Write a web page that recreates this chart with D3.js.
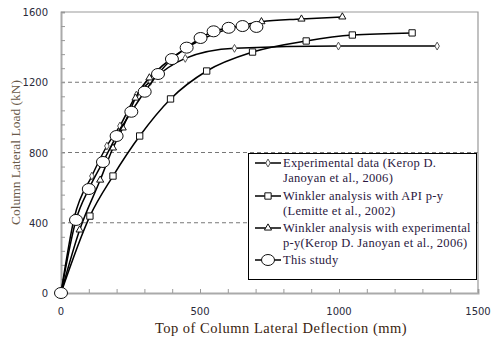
<!DOCTYPE html>
<html>
<head>
<meta charset="utf-8">
<script src="https://cdn.jsdelivr.net/npm/d3@7"></script>
<style>
  body { margin: 0; background: #fff; }
  svg { display: block; }
  .serif { font-family: 'Liberation Serif', 'Times New Roman', serif; }
  .sans { font-family: 'DejaVu Sans', Verdana, sans-serif; }
</style>
</head>
<body>
<div id="chart"></div>
<script>
// data: deflection (mm) / load (kN)
const experimental = [[0, 0], [48, 430], [111, 666], [165, 837], [212, 951], [271, 1127], [322, 1205], [447, 1336], [624, 1393], [998, 1406], [1353, 1406]];
const apiPy = [[0, 0], [104, 438], [187, 666], [283, 894], [394, 1105], [524, 1264], [689, 1372], [882, 1435], [1048, 1469], [1263, 1481]];
const expPy = [[0, 0], [67, 359], [141, 643], [187, 826], [222, 940], [268, 1110], [318, 1225], [721, 1545], [865, 1560], [1012, 1572]];
const thisStudy = [[0, 0], [54, 416], [100, 592], [151, 746], [200, 894], [253, 1032], [301, 1146], [349, 1247], [399, 1332], [452, 1397], [502, 1452], [549, 1490], [603, 1510], [653, 1520], [703, 1515]];

const legendLabels = [
  ['Experimental data (Kerop D.', 'Janoyan et al., 2006)'],
  ['Winkler analysis with API p-y', '(Lemitte et al., 2002)'],
  ['Winkler analysis with experimental', 'p-y(Kerop D. Janoyan et al., 2006)'],
  ['This study']
];
const xTicks = [0, 500, 1000, 1500];
const yTicks = [0, 400, 800, 1200, 1600];
const gridVals = [400, 800, 1200];

const W = 493, H = 337;
const margin = { top: 12, right: 15, bottom: 44, left: 61 };

const svg = d3.select('#chart').append('svg')
  .attr('width', W)
  .attr('height', H);

const x = d3.scaleLinear().domain([0, 1500]).range([margin.left, W - margin.right]);
const y = d3.scaleLinear().domain([0, 1600]).range([H - margin.bottom, margin.top]);

// dashed grid
svg.append('g')
  .selectAll('line')
  .data(gridVals)
  .enter()
  .append('line')
  .attr('x1', x(0)).attr('x2', x(1500))
  .attr('y1', d => y(d)).attr('y2', d => y(d))
  .attr('stroke', '#777')
  .attr('stroke-width', 1)
  .attr('stroke-dasharray', '4,3');

// frame (top/right)
svg.append('path')
  .attr('d', `M${x(0)},${y(1600)}H${x(1500)}V${y(0)}`)
  .attr('fill', 'none')
  .attr('stroke', '#999')
  .attr('stroke-width', 1.2);

// axes with inward minor ticks
const xAxis = svg.append('g')
  .attr('transform', `translate(0,${y(0)})`)
  .call(d3.axisBottom(x).tickValues(d3.range(0, 1501, 100)).tickSize(-4).tickFormat(''));
const yAxis = svg.append('g')
  .attr('transform', `translate(${x(0)},0)`)
  .call(d3.axisLeft(y).tickValues(d3.range(0, 1601, 80)).tickSize(-4).tickFormat(''));
[xAxis, yAxis].forEach(a => {
  a.select('.domain').attr('stroke', '#aaa').attr('stroke-width', 2);
  a.selectAll('.tick line').attr('stroke', '#999');
});

// tick labels
svg.append('g')
  .selectAll('text')
  .data(xTicks)
  .enter()
  .append('text')
  .attr('class', 'sans')
  .attr('x', d => x(d))
  .attr('y', y(0) + 22)
  .attr('text-anchor', 'middle')
  .attr('font-size', 10)
  .attr('fill', '#2a2a3a')
  .text(d => d);

svg.append('g')
  .selectAll('text')
  .data(yTicks)
  .enter()
  .append('text')
  .attr('class', 'sans')
  .attr('x', x(0) - 13)
  .attr('y', d => y(d) + 4)
  .attr('text-anchor', 'end')
  .attr('font-size', 10)
  .attr('fill', '#2a2a3a')
  .text(d => d);

// axis titles
svg.append('text')
  .attr('class', 'serif')
  .attr('x', 281)
  .attr('y', 333)
  .attr('text-anchor', 'middle')
  .attr('font-size', 14.5)
  .attr('letter-spacing', 0.5)
  .attr('fill', '#3a2410')
  .text('Top of Column Lateral Deflection (mm)');

svg.append('text')
  .attr('class', 'serif')
  .attr('transform', `translate(20,${(y(0) + y(1600)) / 2}) rotate(-90)`)
  .attr('text-anchor', 'middle')
  .attr('font-size', 13.5)
  .attr('fill', '#6a5a4a')
  .text('Column Lateral Load (kN)');

// series
const line = d3.line()
  .x(d => x(d[0]))
  .y(d => y(d[1]))
  .curve(d3.curveMonotoneX);

const series = [
  { data: experimental, sym: 'diamond' },
  { data: apiPy, sym: 'square' },
  { data: expPy, sym: 'triangle' },
  { data: thisStudy, sym: 'circle' }
];

function drawMarker(g, sym, cx, cy) {
  if (sym === 'circle') {
    g.append('ellipse')
      .attr('cx', cx).attr('cy', cy)
      .attr('rx', 6.5).attr('ry', 5.5)
      .attr('fill', '#fff').attr('stroke', '#111').attr('stroke-width', 1);
  } else {
    const type = sym === 'diamond' ? d3.symbolDiamond : sym === 'square' ? d3.symbolSquare : d3.symbolTriangle;
    const size = sym === 'diamond' ? 18 : sym === 'square' ? 40 : 22;
    g.append('path')
      .attr('transform', `translate(${cx},${cy})`)
      .attr('d', d3.symbol().type(type).size(size)())
      .attr('fill', '#fff').attr('stroke', sym === 'diamond' ? '#555' : '#111').attr('stroke-width', 1);
  }
}

series.forEach(s => {
  const g = svg.append('g');
  g.append('path')
    .attr('d', line(s.data))
    .attr('fill', 'none')
    .attr('stroke', '#000')
    .attr('stroke-width', 1.5);
  s.data.forEach(d => drawMarker(g, s.sym, x(d[0]), y(d[1])));
});

// legend
const lg = svg.append('g');
lg.append('rect')
  .attr('x', 248.5).attr('y', 153.5)
  .attr('width', 228).attr('height', 126)
  .attr('fill', '#fff')
  .attr('stroke', '#000')
  .attr('stroke-width', 1);

const rowY = [163, 196, 228, 260];
legendLabels.forEach((lines, i) => {
  const ly = rowY[i];
  lg.append('line')
    .attr('x1', 255).attr('x2', 281)
    .attr('y1', ly).attr('y2', ly)
    .attr('stroke', '#000').attr('stroke-width', 1.5);
  drawMarker(lg, series[i].sym, 268, ly);
  lines.forEach((t, j) => {
    lg.append('text')
      .attr('class', 'serif')
      .attr('x', 283)
      .attr('y', ly + 4 + j * 15)
      .attr('font-size', 12.5)
      .attr('letter-spacing', 0.3)
      .attr('fill', '#2a1840')
      .text(t);
  });
});
</script>
</body>
</html>
